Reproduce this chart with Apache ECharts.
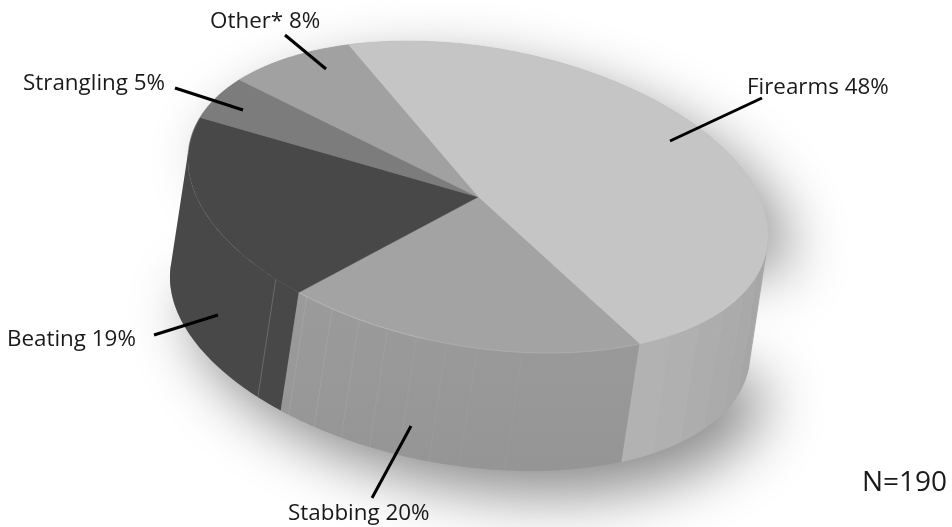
<!DOCTYPE html>
<html>
<head>
<meta charset="utf-8">
<style>html,body{margin:0;padding:0;background:#fff}#chart{width:952px;height:527px}</style>
<script src="https://cdn.jsdelivr.net/npm/echarts@6/dist/echarts.min.js"></script>
</head>
<body>
<div id="chart"></div>
<script>
// Weapon shares, percent, clockwise from the "Firearms" slice
const categories = ['Firearms', 'Stabbing', 'Beating', 'Strangling', 'Other*'];
const values = [48, 20, 19, 5, 8];
const sampleNote = 'N=190';

// Appearance of each slice
const topColors = ['#c5c5c5', '#a3a3a3', '#484848', '#7c7c7c', '#a1a1a1'];
const wallColors = [['#b2b2b2', '#a3a3a3'], ['#9b9b9b', '#959595'], ['#484848', '#484848'], ['#666666', '#666666'], ['#888888', '#888888']];

// Tilted-disc projection
const CX = 478, CY = 197, RA = 293.4, RB = 149.6;
const TILT = 10.1 * Math.PI / 180;
const DROP_X = -18, DROP_Y = 118;
const START_DEG = 238.2;

// Wall detail, as rim angles
const FIREARMS_PANEL_STEP = 8;
const stabbingSeams = [121, 115, 109, 103, 97, 91, 85, 76];
const beatingSeam = 129;

// Label and leader placement
const labelAnchors = [[747, 88], [288, 514], [7, 340], [23, 84], [210, 22]];
const leaders = [
  [[670, 141], [762, 98]],
  [[411, 426], [372, 498]],
  [[218, 315], [154, 335]],
  [[243, 110], [175, 88]],
  [[326, 69], [285, 35]]
];
const noteAnchor = [862, 483];
const labelFont = '22.4px "Open Sans", sans-serif';
const noteFont = '28px "Open Sans", sans-serif';

const rad = d => d * Math.PI / 180;
function rim(deg, dropped) {
  const c = RA * Math.cos(rad(deg)), s = RB * Math.sin(rad(deg));
  return [
    CX + c * Math.cos(TILT) - s * Math.sin(TILT) + (dropped ? DROP_X : 0),
    CY + c * Math.sin(TILT) + s * Math.cos(TILT) + (dropped ? DROP_Y : 0)
  ];
}
function arc(from, to, dropped) {
  const n = Math.max(1, Math.ceil(Math.abs(to - from)));
  const pts = [];
  for (let i = 0; i <= n; i++) pts.push(rim(from + (to - from) * i / n, dropped));
  return pts;
}

// Range of rim angles whose wall faces the viewer
const uDrop = DROP_X * Math.cos(TILT) + DROP_Y * Math.sin(TILT);
const vDrop = -DROP_X * Math.sin(TILT) + DROP_Y * Math.cos(TILT);
const frontMid = Math.atan2(vDrop / RB, uDrop / RA) * 180 / Math.PI;
const FRONT_FROM = frontMid - 90, FRONT_TO = frontMid + 90;

const total = values.reduce((a, b) => a + b, 0);
function sliceRange(i) {
  let before = 0;
  for (let k = 0; k < i; k++) before += values[k];
  const a = START_DEG + before / total * 360;
  return [a, a + values[i] / total * 360];
}
// Clip a slice's rim range to the front-facing half, trying each full turn
function frontRange(i) {
  const [a, b] = sliceRange(i);
  for (const turn of [-360, 0, 360, -720]) {
    const lo = Math.max(a + turn, FRONT_FROM), hi = Math.min(b + turn, FRONT_TO);
    if (hi > lo) return [lo, hi];
  }
  return null;
}

function hullPoints() {
  return arc(FRONT_TO, FRONT_TO + 180, false).concat(arc(FRONT_TO, FRONT_FROM, true));
}

function renderShadow() {
  return {
    type: 'polygon',
    shape: { points: hullPoints() },
    style: { fill: '#a0a0a0', shadowBlur: 60, shadowOffsetX: 20, shadowOffsetY: 24, shadowColor: 'rgba(0,0,0,0.46)' },
    silent: true
  };
}

function grey(hexA, hexB, t) {
  const p = parseInt(hexA.slice(1, 3), 16), q = parseInt(hexB.slice(1, 3), 16);
  const v = Math.round(p + (q - p) * Math.min(1, Math.max(0, t)));
  return 'rgb(' + v + ',' + v + ',' + v + ')';
}

function seamLine(deg, color) {
  const p = rim(deg, false), q = rim(deg, true);
  return {
    type: 'line',
    shape: { x1: p[0], y1: p[1], x2: q[0], y2: q[1] },
    style: { stroke: color, lineWidth: 0.7 },
    silent: true
  };
}

function renderWall(params) {
  const i = params.dataIndex;
  const range = frontRange(i);
  if (!range) return { type: 'group', children: [] };
  const [lo, hi] = range;
  const children = [];
  const [c0, c1] = wallColors[i];
  if (i === 0) {
    // Firearms wall: panels darken slightly toward the right-hand edge
    let end = hi;
    while (end > lo + 0.01) {
      const start = Math.max(lo, end - FIREARMS_PANEL_STEP);
      const col = grey(c0, c1, (hi - end) / (hi - lo));
      children.push({
        type: 'polygon',
        shape: { points: arc(start, end, false).concat(arc(end, start, true)) },
        style: { fill: col, stroke: col, lineWidth: 0.5 },
        silent: true
      });
      end = start;
    }
  } else {
    children.push({
      type: 'polygon',
      shape: { points: arc(lo, hi, false).concat(arc(hi, lo, true)) },
      style: {
        fill: new echarts.graphic.LinearGradient(0, 0, 0, 1, [
          { offset: 0, color: c0 }, { offset: 1, color: c1 }
        ])
      },
      silent: true
    });
  }
  if (i === 1) {
    stabbingSeams.forEach((d, k) => {
      children.push(seamLine(d, 'rgba(185,185,185,' + (0.42 - k * 0.04) + ')'));
    });
  }
  if (i === 2) children.push(seamLine(beatingSeam, 'rgba(170,170,170,0.5)'));
  return { type: 'group', children };
}

function renderTop(params) {
  const i = params.dataIndex;
  const [a, b] = sliceRange(i);
  const kids = [{
    type: 'polygon',
    shape: { points: [[CX, CY]].concat(arc(a, b, false)) },
    style: { fill: topColors[i], stroke: topColors[i], lineWidth: 0.4 },
    silent: true
  }];
  // Pale highlight along the front rim of the dark slices
  if (i === 1 || i === 2) {
    kids.push({
      type: 'polyline',
      shape: { points: arc(i === 1 ? a + 45 : a, i === 2 ? 178 : b, false) },
      style: { fill: 'none', stroke: 'rgba(200,200,200,0.4)', lineWidth: 0.7 },
      silent: true
    });
  }
  return { type: 'group', children: kids };
}

function renderLabel(params) {
  const i = params.dataIndex;
  const [p, q] = leaders[i];
  return {
    type: 'group',
    children: [
      { type: 'line', shape: { x1: p[0], y1: p[1], x2: q[0], y2: q[1] }, style: { stroke: '#000', lineWidth: 3 }, silent: true },
      {
        type: 'text', x: labelAnchors[i][0], y: labelAnchors[i][1],
        style: { text: categories[i] + ' ' + values[i] + '%', font: labelFont, fill: '#1a1a1a', verticalAlign: 'middle', align: 'left' },
        silent: true
      }
    ]
  };
}

function renderNote() {
  return {
    type: 'text', x: noteAnchor[0], y: noteAnchor[1],
    style: { text: sampleNote, font: noteFont, fill: '#1a1a1a', verticalAlign: 'middle', align: 'left' },
    silent: true
  };
}

const chart = echarts.init(document.getElementById('chart'), null, { renderer: 'canvas' });
chart.setOption({
  animation: false,
  backgroundColor: '#fff',
  series: [
    { type: 'custom', coordinateSystem: 'none', z: 1, renderItem: renderShadow, data: [total] },
    { type: 'custom', coordinateSystem: 'none', z: 2, renderItem: renderWall, data: values },
    { type: 'custom', coordinateSystem: 'none', z: 3, renderItem: renderTop, data: values },
    { type: 'custom', coordinateSystem: 'none', z: 4, renderItem: renderLabel, data: values },
    { type: 'custom', coordinateSystem: 'none', z: 4, renderItem: renderNote, data: [total] }
  ]
});
</script>
</body>
</html>
